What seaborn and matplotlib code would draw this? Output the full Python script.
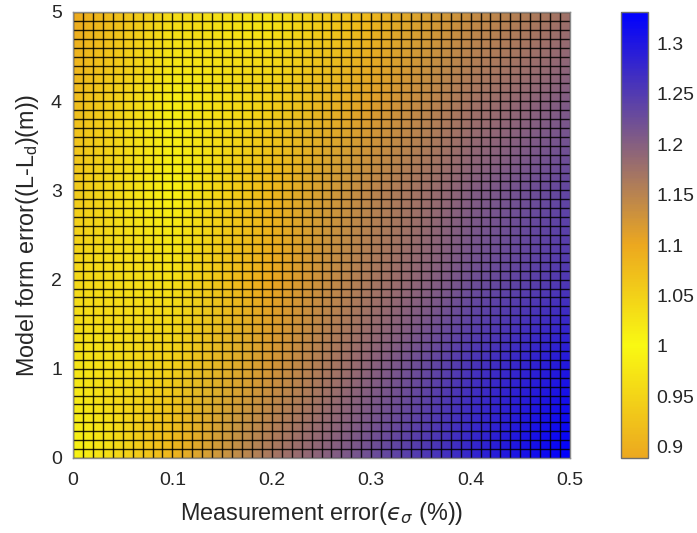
import numpy as np
import matplotlib
matplotlib.use("Agg")
import matplotlib.pyplot as plt
import seaborn as sns
from matplotlib.colors import LinearSegmentedColormap
from matplotlib.ticker import FuncFormatter

# Sample points of the surface
meas_err = [0.0, 0.1, 0.2, 0.3, 0.4, 0.5]      # measurement error (%)
model_err = [0, 1, 2, 3, 4, 5]                 # model form error (m)
# ratio[i][j] -> model_err[i], meas_err[j]
ratio = [
    [0.995, 1.085, 1.170, 1.225, 1.280, 1.331],
    [0.975, 1.050, 1.125, 1.195, 1.260, 1.300],
    [0.955, 1.030, 1.100, 1.165, 1.220, 1.255],
    [0.935, 1.010, 1.080, 1.145, 1.200, 1.235],
    [0.915, 0.985, 1.050, 1.110, 1.170, 1.205],
    [0.889, 0.960, 1.025, 1.080, 1.135, 1.175],
]
cbar_ticks = [0.9, 0.95, 1.0, 1.05, 1.1, 1.15, 1.2, 1.25, 1.3]
x_ticks = [0, 0.1, 0.2, 0.3, 0.4, 0.5]
y_ticks = [0, 1, 2, 3, 4, 5]
n_cells = 50  # surface mesh resolution along each axis

sns.set_style("white")
plt.rcParams["font.family"] = ["Liberation Sans", "DejaVu Sans"]
plt.rcParams["mathtext.fontset"] = "custom"
plt.rcParams["mathtext.rm"] = "Liberation Sans"
plt.rcParams["mathtext.it"] = "DejaVu Sans:italic"
plt.rcParams["mathtext.fallback"] = "stixsans"

C = np.array(ratio)
vmin, vmax = C.min(), C.max()

orange = "#ECA81F"
yellow = "#F9F912"
blue = "#0000FF"
p1 = (1.0 - vmin) / (vmax - vmin)
p2 = (1.1 - vmin) / (vmax - vmin)
cmap = LinearSegmentedColormap.from_list(
    "orange_yellow_blue", [(0.0, orange), (p1, yellow), (p2, orange), (1.0, blue)]
)

fig = plt.figure(figsize=(6.97, 5.33), dpi=100)
ax = fig.add_axes([73 / 697, 75 / 533, 497 / 697, 446 / 533])
cax = fig.add_axes([621 / 697, 75 / 533, 27 / 697, 446 / 533])

X, Y = np.meshgrid(meas_err, model_err)
mesh = ax.pcolormesh(X, Y, C, shading="gouraud", cmap=cmap, vmin=vmin, vmax=vmax)

# faceted surface edges
x_edges = np.linspace(meas_err[0], meas_err[-1], n_cells + 1)
y_edges = np.linspace(model_err[0], model_err[-1], n_cells + 1)
edge_kw = dict(colors="black", linewidth=1.0, alpha=0.85)
ax.vlines(x_edges, model_err[0], model_err[-1], **edge_kw)
ax.hlines(y_edges, meas_err[0], meas_err[-1], **edge_kw)

ax.set_xlim(meas_err[0], meas_err[-1])
ax.set_ylim(model_err[0], model_err[-1])
ax.set_xticks(x_ticks)
ax.set_yticks(y_ticks)
fmt = FuncFormatter(lambda v, p: f"{v:g}")
ax.xaxis.set_major_formatter(fmt)
ax.yaxis.set_major_formatter(fmt)
ax.tick_params(axis="both", length=0, labelsize=14, colors="#262626")
ax.tick_params(axis="x", pad=10)
ax.tick_params(axis="y", pad=8)
for s in ax.spines.values():
    s.set_color("#8c8c8c")
    s.set_linewidth(1.0)

ax.set_xlabel("Measurement error($\u03f5_{\u03c3}$ (%))", fontsize=16.8,
              color="#262626", labelpad=8)
ax.set_ylabel(r"Model form error((L-L$_\mathregular{d}$)(m))", fontsize=16.8,
              color="#262626", labelpad=7)

cb = fig.colorbar(mesh, cax=cax, ticks=cbar_ticks)
cb.ax.yaxis.set_major_formatter(fmt)
cb.ax.tick_params(direction="in", length=4, width=0.8, color="#262626",
                  labelsize=14, labelcolor="#262626", pad=6)
cb.outline.set_edgecolor("#6e6e6e")
cb.outline.set_linewidth(1.0)

fig.savefig("out.png", dpi=100)
